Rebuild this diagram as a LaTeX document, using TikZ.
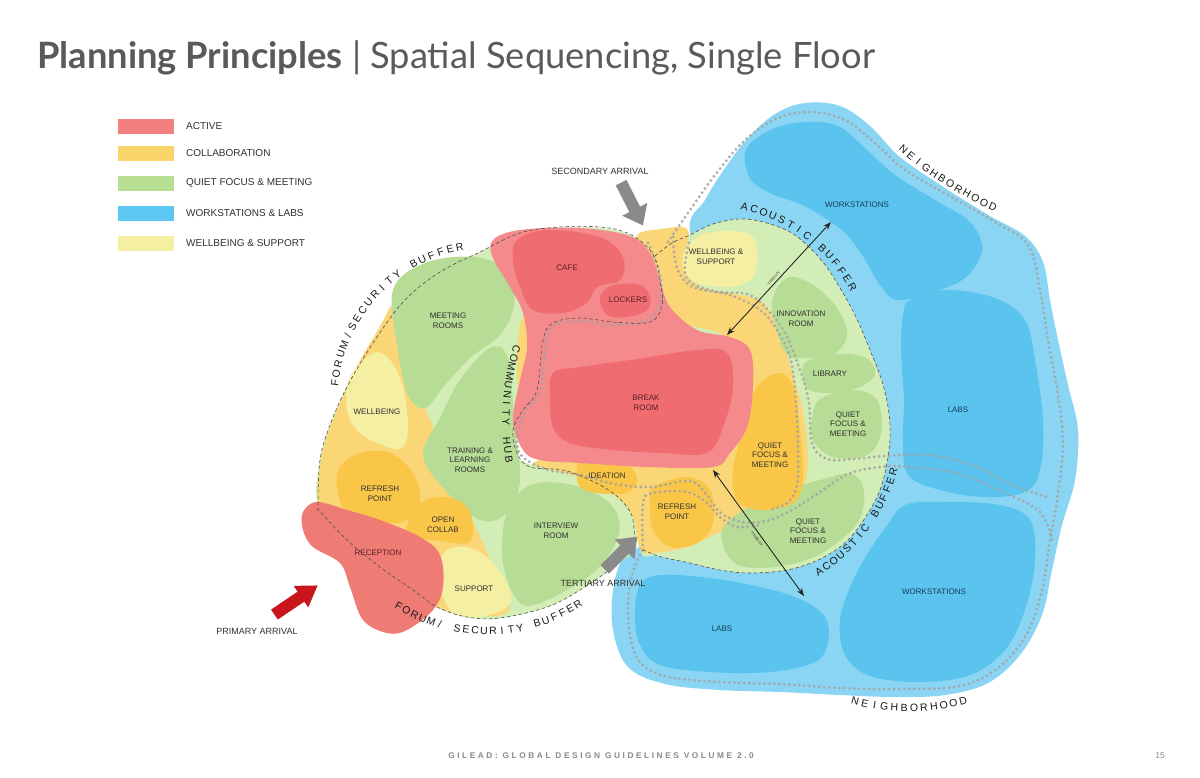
\documentclass[tikz,border=0pt]{standalone}
\usepackage{fontspec}
\setmainfont{Liberation Sans}
\newfontfamily\titlefont{Lato}
\newfontfamily\footfont[LetterSpace=31]{Liberation Sans}
\usetikzlibrary{arrows.meta}
\definecolor{cBlueLt}{HTML}{8AD5F3}
\definecolor{cBlueDk}{HTML}{5AC4EE}
\definecolor{cGreenLt}{HTML}{D2EDB5}
\definecolor{cGreen}{HTML}{B6DC96}
\definecolor{cYellow}{HTML}{FAD676}
\definecolor{cOrange}{HTML}{F9C648}
\definecolor{cWell}{HTML}{F4EFA3}
\definecolor{cRedLt}{HTML}{F48A8B}
\definecolor{cRedDk}{HTML}{EF6D71}
\definecolor{cRecep}{HTML}{EF7B75}
\definecolor{legActive}{HTML}{F47F80}
\definecolor{legCollab}{HTML}{FBD46B}
\definecolor{legQuiet}{HTML}{B8DF91}
\definecolor{legWork}{HTML}{5CC8F1}
\definecolor{legWell}{HTML}{F5EFA2}
\definecolor{dotgray}{HTML}{A3A3A3}
\definecolor{dashgray}{HTML}{4F4F4F}
\definecolor{txt}{HTML}{303030}
\definecolor{txtred}{HTML}{5B1F22}
\definecolor{txtblue}{HTML}{173B57}
\definecolor{arrgray}{HTML}{8A8A8A}
\definecolor{arrred}{HTML}{C9161C}
\definecolor{titlegray}{HTML}{5A5A5A}
\definecolor{footgray}{HTML}{8A8A8A}
% letters on a circular arc: cx, cy, r, start angle, step, rotation offset, name prefix, letters
\newcommand\arctext[8]{%
  \foreach \ch [count=\ii from 0] in {#8}{%
    \pgfmathsetmacro\arcang{#4+(#5)*\ii}%
    \node[curvchar, rotate=\arcang+#6] (#7-\ii) at ({#1+#3*cos(\arcang)},{#2-#3*sin(\arcang)}) {\ch};%
  }}
\begin{document}
\begin{tikzpicture}[x=1pt,y=-1pt,
  lbl/.style={font=\fontsize{8}{9.6}\selectfont, text=txt, align=center, inner sep=0pt},
  redlbl/.style={lbl, text=txtred},
  bluelbl/.style={lbl, text=txtblue},
  arrlbl/.style={font=\fontsize{9}{10}\selectfont, text=txt, inner sep=0pt},
  swatch/.style={minimum width=56pt, minimum height=15pt, inner sep=0pt, draw=none},
  legtxt/.style={anchor=west, font=\fontsize{10}{12}\selectfont, text=txt, inner sep=0pt},
  gpath/.style={draw=dotgray, line width=3.2pt, line cap=round, dash pattern=on 0pt off 5pt, opacity=0.85},
  dline/.style={draw=dashgray, line width=0.6pt, dash pattern=on 3.5pt off 2.5pt},
  visarrow/.style={draw=black!85, line width=0.9pt, {Stealth[length=8pt,width=6pt]}-{Stealth[length=8pt,width=6pt]}},
  vistxt/.style={font=\fontsize{3.5}{4}\selectfont, text=txt, inner sep=0pt},
  curvchar/.style={font=\fontsize{10.5}{10.5}\selectfont, text=black!90, inner sep=0pt}
]
\useasboundingbox (0,0) rectangle (1200,777);
\fill[white] (0,0) rectangle (1200,777);

% ---------- title ----------
\node[anchor=base west, inner sep=0pt, text=titlegray] (title) at (37,68)
  {\titlefont\fontsize{36.3}{40}\selectfont{\bfseries Planning Principles} | Spatial Sequencing, Single Floor};

% ---------- legend ----------
\node[swatch, fill=legActive] (swA) at (146,126) {};
\node[legtxt] (lgA) at (186,126) {ACTIVE};
\node[swatch, fill=legCollab] (swB) at (146,153) {};
\node[legtxt] (lgB) at (186,153) {COLLABORATION};
\node[swatch, fill=legQuiet] (swC) at (146,183) {};
\node[legtxt] (lgC) at (186,183) {QUIET FOCUS \& MEETING};
\node[swatch, fill=legWork] (swD) at (146,213) {};
\node[legtxt] (lgD) at (186,213) {WORKSTATIONS \& LABS};
\node[swatch, fill=legWell] (swE) at (146,243) {};
\node[legtxt] (lgE) at (186,243) {WELLBEING \& SUPPORT};

% ---------- blue neighbourhood ----------
\fill[cBlueLt] plot[smooth cycle, tension=0.6] coordinates {(690,232) (705,200) (725,168) (748,138) (775,114) (805,103) (840,106) (870,126) (900,157) (945,188) (990,216) (1025,236) (1043,262) (1050,300) (1058,340) (1068,385) (1078,430) (1075,480) (1062,525) (1052,570) (1042,615) (1020,655) (988,683) (945,695) (895,697) (840,695) (780,692) (720,690) (665,684) (628,667) (613,630) (613,590) (622,560) (640,545) (700,470) (720,320)};
\fill[cBlueDk] plot[smooth cycle, tension=0.6] coordinates {(746,150) (770,130) (805,122) (838,126) (865,148) (895,175) (935,200) (970,222) (982,250) (965,278) (930,293) (897,300) (880,285) (864,258) (847,235) (825,218) (800,204) (770,193) (750,178)};
\fill[cBlueDk] plot[smooth cycle, tension=0.6] coordinates {(910,300) (945,290) (995,298) (1025,320) (1035,360) (1043,420) (1040,470) (1025,492) (985,497) (940,490) (908,475) (903,440) (904,400) (901,350) (903,315)};
\fill[cBlueDk] plot[smooth cycle, tension=0.6] coordinates {(905,505) (945,502) (1000,505) (1030,520) (1035,560) (1025,610) (1005,650) (970,675) (920,682) (870,676) (845,655) (840,620) (851,585) (868,553) (886,527)};
\fill[cBlueDk] plot[smooth cycle, tension=0.6] coordinates {(640,585) (660,575) (710,578) (760,587) (800,599) (825,617) (828,642) (815,662) (770,672) (710,672) (660,665) (640,645) (635,615)};

% ---------- acoustic green zone ----------
\fill[cGreenLt] plot[smooth cycle, tension=0.6] coordinates {(650,252) (672,243) (690,235) (713,224) (740,219) (763,222) (790,232) (810,248) (826,266) (840,288) (855,315) (870,350) (884,388) (890,425) (888,457) (880,490) (865,518) (845,543) (818,560) (787,570) (750,573) (720,570) (690,563) (658,556) (640,548) (645,470) (660,330)};
% central collaboration zone
\fill[cYellow] plot[smooth cycle, tension=0.6] coordinates {(636,238) (662,229) (688,230) (684,262) (697,285) (735,294) (762,302) (776,325) (789,362) (803,412) (808,462) (801,492) (779,512) (752,523) (720,532) (690,546) (655,553) (640,549) (632,516) (612,501) (580,489) (548,478) (535,462) (600,445) (700,440) (735,400) (730,340) (668,318) (655,280)};

% ---------- forum zone ----------
\fill[cGreenLt] plot[smooth cycle, tension=0.6] coordinates {(318,505) (320,460) (330,425) (348,385) (375,340) (405,300) (440,272) (480,252) (520,233) (560,228) (600,228) (630,235) (650,255) (660,300) (600,330) (550,330) (540,390) (515,435) (520,460) (580,478) (625,505) (636,545) (613,567) (580,590) (547,607) (500,618) (467,617) (437,607) (413,590) (380,567) (347,540)};
\fill[cYellow] plot[smooth cycle, tension=0.6] coordinates {(318,505) (322,455) (335,415) (355,370) (378,330) (395,303) (405,330) (415,380) (430,420) (445,450) (458,490) (472,520) (487,552) (500,585) (508,612) (470,616) (437,607) (405,585) (365,555) (332,527)};
\fill[cYellow] plot[smooth cycle, tension=0.6] coordinates {(521,322) (531,318) (536,355) (531,395) (520,400) (517,360)};

% green rooms
\fill[cGreen] plot[smooth cycle, tension=0.6] coordinates {(393,290) (425,263) (475,257) (508,272) (514,305) (500,335) (470,358) (445,385) (425,408) (408,395) (398,350)};
\fill[cGreen] plot[smooth cycle, tension=0.6] coordinates {(423,455) (440,418) (460,380) (490,348) (508,358) (514,420) (520,480) (507,513) (480,520) (445,490)};
\fill[cGreen] plot[smooth cycle, tension=0.6] coordinates {(507,512) (533,484) (580,487) (613,507) (618,537) (593,573) (547,600) (520,603) (503,563)};
\fill[cGreen] plot[smooth cycle, tension=0.6] coordinates {(772,305) (787,278) (813,285) (837,308) (847,335) (833,355) (807,358) (785,352)};
\fill[cGreen] plot[smooth cycle, tension=0.6] coordinates {(805,363) (837,354) (866,358) (875,375) (857,388) (827,393) (806,387)};
\fill[cGreen] plot[smooth cycle, tension=0.6] coordinates {(813,413) (822,398) (853,390) (877,400) (881,433) (867,455) (833,457) (813,440)};
\fill[cGreen] plot[smooth cycle, tension=0.6] coordinates {(722,530) (750,506) (787,490) (820,480) (852,474) (864,492) (858,522) (830,548) (800,562) (760,568) (732,561)};

% wellbeing
\fill[cWell] plot[smooth cycle, tension=0.6] coordinates {(347,410) (350,377) (373,353) (390,360) (403,387) (408,427) (403,447) (387,447) (360,433)};
\fill[cWell] plot[smooth cycle, tension=0.6] coordinates {(440,563) (447,550) (467,547) (490,560) (510,590) (507,607) (480,617) (453,613) (440,587)};
\fill[cWell] plot[smooth cycle, tension=0.6] coordinates {(683,267) (687,247) (707,233) (747,233) (757,250) (753,277) (730,287) (697,283)};

% orange rooms
\fill[cOrange] plot[smooth cycle, tension=0.6] coordinates {(337,487) (340,467) (360,453) (390,453) (413,473) (420,500) (407,520) (380,523) (347,513)};
\fill[cOrange] plot[smooth cycle, tension=0.6] coordinates {(407,527) (420,503) (447,497) (467,507) (473,527) (467,543) (433,540) (410,537)};
\fill[cOrange] plot[smooth cycle, tension=0.6] coordinates {(577,473) (580,463) (607,460) (630,467) (637,480) (627,493) (597,493) (580,487)};
\fill[cOrange] plot[smooth cycle, tension=0.6] coordinates {(650,503) (653,487) (687,477) (710,490) (713,523) (697,543) (670,547) (653,530)};
\fill[cOrange] plot[smooth cycle, tension=0.6] coordinates {(750,403) (760,383) (780,373) (793,387) (800,430) (803,480) (793,503) (760,510) (737,500) (733,470) (743,430)};

% active (red)
\fill[cRedLt] plot[smooth cycle, tension=0.6] coordinates {(493,258) (493,240) (520,230) (580,228) (630,236) (650,253) (660,280) (670,307) (697,330) (730,337) (750,350) (753,387) (747,427) (730,453) (713,467) (647,467) (580,463) (540,460) (523,450) (513,420) (520,380) (527,347) (523,313) (510,287)};
\fill[cRedDk] plot[smooth cycle, tension=0.6] coordinates {(513,260) (517,240) (547,230) (600,237) (623,257) (620,280) (597,287) (587,303) (563,313) (533,310) (520,287)};
\fill[cRedDk] plot[smooth cycle, tension=0.6] coordinates {(600,297) (613,285) (640,285) (650,297) (647,310) (627,317) (607,315)};
\fill[cRedDk] plot[smooth cycle, tension=0.6] coordinates {(550,397) (553,373) (580,367) (630,360) (697,350) (727,353) (733,387) (723,427) (707,453) (663,453) (613,450) (570,443) (553,427)};
\fill[cRecep] plot[smooth cycle, tension=0.6] coordinates {(303,512) (317,502) (347,510) (380,520) (420,537) (440,555) (443,587) (433,610) (407,630) (387,633) (363,620) (350,587) (340,563) (313,547) (303,530)};

% ---------- circulation (dotted) ----------
\draw[gpath] plot[smooth, tension=0.6] coordinates {(648,243) (660,275) (660,303) (648,320) (613,325) (580,321) (553,326) (546,345) (540,390) (525,412) (517,435) (521,455) (545,469) (580,475) (615,484) (650,487) (690,481) (706,494) (721,513) (742,522) (766,521) (790,511) (820,492) (848,474) (880,467) (910,467) (960,474) (1003,492) (1040,512) (1052,540)};
\draw[gpath] plot[smooth, tension=0.6] coordinates {(673,237) (677,268) (693,287) (730,295) (760,310) (777,330) (790,357) (795,390) (797,420) (798,450) (797,485) (787,503) (768,510)};
\draw[gpath] plot[smooth, tension=0.6] coordinates {(689,243) (686,277) (713,291) (747,294) (765,307) (784,331) (800,370) (809,403) (812,443) (827,459) (853,459) (885,456) (930,455) (975,466) (1012,485) (1050,498)};
\draw[gpath] plot[smooth, tension=0.6] coordinates {(643,550) (643,503) (653,493) (687,492) (707,503) (720,517) (737,527) (760,525)};
\draw[gpath] plot[smooth, tension=0.6] coordinates {(668,242) (690,210) (715,175) (745,140) (778,118) (812,112) (845,120) (875,143) (905,170) (950,196) (995,222) (1028,245) (1040,290) (1048,340) (1058,395) (1063,445) (1057,500) (1050,540) (1042,590) (1026,635) (998,668) (960,686) (900,689) (840,688) (780,684) (720,682) (665,676) (637,658) (628,615) (632,575) (643,550)};

% ---------- buffers (dashed) ----------
\draw[dline] plot[smooth, tension=0.6] coordinates {(318,505) (320,460) (330,425) (348,385) (375,340) (405,300) (440,272) (480,252) (520,233) (560,227) (600,227) (625,232) (643,243) (655,258) (660,280) (662,305) (650,322) (613,322) (580,318) (553,323) (543,340) (537,390) (523,410) (513,430) (517,453) (530,467) (563,470) (590,480) (613,493) (627,507) (633,520) (635,545)};
\draw[dline] plot[smooth, tension=0.6] coordinates {(317,508) (347,540) (380,567) (413,590) (437,607) (467,617) (500,618) (547,607) (580,590) (613,567) (635,545)};
\draw[dline] plot[smooth, tension=0.6] coordinates {(655,256) (672,243) (690,235) (713,224) (740,219) (763,222) (790,232) (810,248) (826,266) (840,288) (855,315) (870,350) (884,388) (890,425) (888,457) (880,490) (865,518) (845,543) (818,560) (787,570) (750,573) (720,570) (690,563) (658,556) (640,548)};

% ---------- arrival arrows ----------
\begin{scope}[shift={(632,204)}, rotate=-63]
  \fill[arrgray] (-24,-6) -- (6,-6) -- (6,-14) -- (24,0) -- (6,14) -- (6,6) -- (-24,6) -- cycle;
\end{scope}
\begin{scope}[shift={(621,553)}, rotate=45]
  \fill[arrgray] (-23,-6) -- (5,-6) -- (5,-14) -- (23,0) -- (5,14) -- (5,6) -- (-23,6) -- cycle;
\end{scope}
\begin{scope}[shift={(296,600)}, rotate=34]
  \fill[arrred] (-26,-6) -- (6,-6) -- (6,-13) -- (26,0) -- (6,13) -- (6,6) -- (-26,6) -- cycle;
\end{scope}

% ---------- visibility ----------
\coordinate (v1a) at (727,335);
\coordinate (v1b) at (831,222);
\coordinate (v2a) at (713,470);
\coordinate (v2b) at (804,596);
\draw[visarrow] (v1a) -- (v1b);
\draw[visarrow] (v2a) -- (v2b);
\node[vistxt, rotate=47] (vis1) at (774,278) {VISIBILITY};
\node[vistxt, rotate=-54] (vis2) at (757,539) {VISIBILITY};

% ---------- curved labels ----------
\arctext{710}{365}{162}{77.7}{-3.51}{-90}{abA}{A,C,O,U,S,T,I,C,{},B,U,F,F,E,R}
\arctext{720}{420}{181}{-56.8}{2.857}{90}{abB}{A,C,O,U,S,T,I,C,{},B,U,F,F,E,R}
\arctext{1150}{-137}{378}{-130.7}{1.465}{90}{nbA}{N,E,I,G,H,B,O,R,H,O,O,D}
\arctext{908}{500}{208}{-104.7}{2.73}{90}{nbB}{N,E,I,G,H,B,O,R,H,O,O,D}
\arctext{490}{400}{156}{173.8}{-3.63}{-90}{fsA}{F,O,R,U,M,/,S,E,C,U,R,I,T,Y,{},B,U,F,F,E,R}
\arctext{487}{462}{169}{-121.5}{3.05}{90}{fsB}{F,O,R,U,M,/,{},S,E,C,U,R,I,T,Y,{},B,U,F,F,E,R}
\arctext{756}{420}{250}{163.5}{2.125}{90}{chub}{C,O,M,M,U,N,I,T,Y,{},H,U,B}

% ---------- room labels ----------
\node[redlbl] (cafe) at (567,268) {CAFE};
\node[redlbl] (lockers) at (628,300) {LOCKERS};
\node[redlbl] (break) at (646,403) {BREAK\\ROOM};
\node[redlbl] (recep) at (378,553) {RECEPTION};
\node[lbl] (meet) at (448,321) {MEETING\\ROOMS};
\node[lbl] (wellL) at (377,412) {WELLBEING};
\node[lbl] (train) at (470,460) {TRAINING \&\\LEARNING\\ROOMS};
\node[lbl] (refL) at (380,494) {REFRESH\\POINT};
\node[lbl] (open) at (443,525) {OPEN\\COLLAB};
\node[lbl] (supp) at (474,589) {SUPPORT};
\node[lbl] (inter) at (556,531) {INTERVIEW\\ROOM};
\node[lbl] (idea) at (607,476) {IDEATION};
\node[lbl] (refR) at (677,512) {REFRESH\\POINT};
\node[lbl] (wellR) at (716,257) {WELLBEING \&\\SUPPORT};
\node[lbl] (innov) at (801,319) {INNOVATION\\ROOM};
\node[lbl] (lib) at (830,374) {LIBRARY};
\node[lbl] (qf1) at (848,424) {QUIET\\FOCUS \&\\MEETING};
\node[lbl] (qf2) at (770,455) {QUIET\\FOCUS \&\\MEETING};
\node[lbl] (qf3) at (808,531) {QUIET\\FOCUS \&\\MEETING};
\node[bluelbl] (ws1) at (857,205) {WORKSTATIONS};
\node[bluelbl] (labs1) at (958,410) {LABS};
\node[bluelbl] (ws2) at (934,592) {WORKSTATIONS};
\node[bluelbl] (labs2) at (722,629) {LABS};

\node[arrlbl] (arr2) at (600,171) {SECONDARY ARRIVAL};
\node[arrlbl] (arr3) at (603,583) {TERTIARY ARRIVAL};
\node[arrlbl] (arr1) at (257,631) {PRIMARY ARRIVAL};

% ---------- footer ----------
\node[inner sep=0pt, text=footgray] (footer) at (601,756) {\footfont\bfseries\fontsize{8.3}{10}\selectfont GILEAD: GLOBAL DESIGN GUIDELINES VOLUME 2.0};
\node[inner sep=0pt, text=footgray] (pageno) at (1160,756) {\fontsize{8.5}{10}\selectfont 15};
\end{tikzpicture}
\end{document}
